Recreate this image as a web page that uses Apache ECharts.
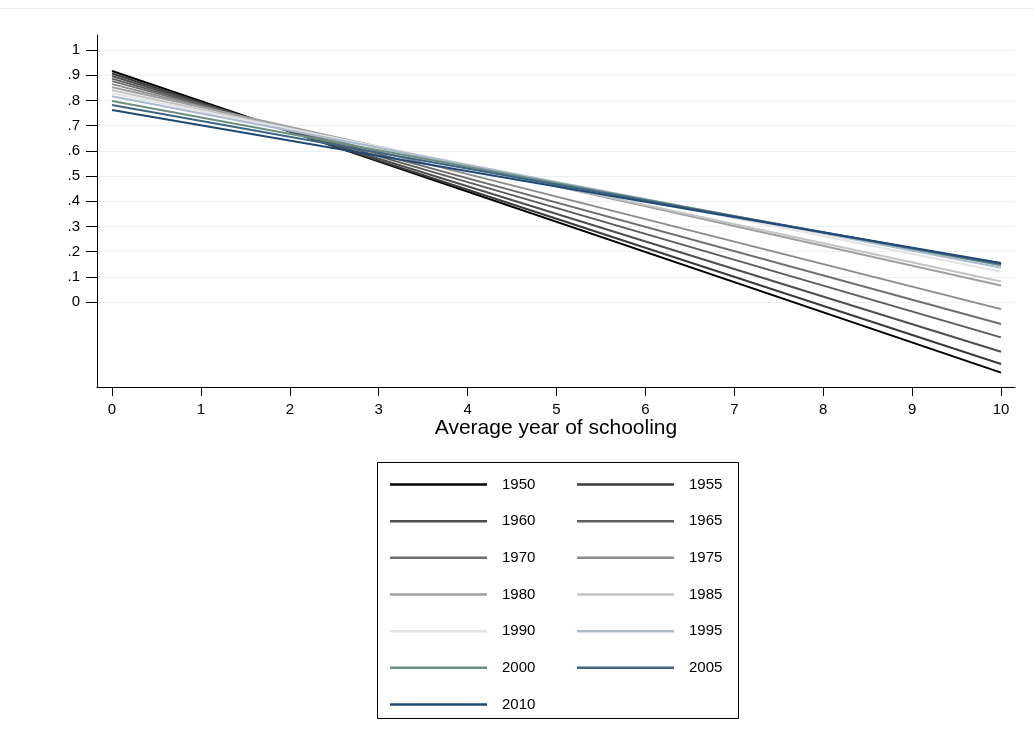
<!DOCTYPE html>
<html>
<head>
<meta charset="utf-8">
<script src="https://cdn.jsdelivr.net/npm/echarts@6/dist/echarts.min.js"></script>
<style>
html,body{margin:0;padding:0;background:#fff;}
#chart{width:1034px;height:755px;}
</style>
</head>
<body>
<div id="chart"></div>
<script>
// Data
const years = ['1950','1955','1960','1965','1970','1975','1980','1985','1990','1995','2000','2005','2010'];
const xStart = 0;
const xEnd = 10;
const valuesAtStart = [0.917,0.907,0.897,0.887,0.877,0.865,0.853,0.841,0.829,0.817,0.798,0.782,0.762];
const valuesAtEnd   = [-0.280,-0.246,-0.197,-0.140,-0.087,-0.028,0.066,0.082,0.120,0.136,0.146,0.151,0.155];
const colors = ['#000000','#3a3a3a','#4e4e4e','#5c5c5c','#6e6e6e','#8c8c8c','#a0a0a0','#c4c4c4','#e4e4e4','#a9bbcc','#6d8f7f','#3f6584','#1f4a75'];
const xTicks = [0,1,2,3,4,5,6,7,8,9,10];
const yTicks = [0,0.1,0.2,0.3,0.4,0.5,0.6,0.7,0.8,0.9,1];

const leftCol = years.filter((y,i)=>i%2===0);
const rightCol = years.filter((y,i)=>i%2===1);

const FONT = 'Liberation Sans, Arial, sans-serif';

const series = years.map((y,i)=>({
  name: y,
  type: 'line',
  data: [[xStart, valuesAtStart[i]],[xEnd, valuesAtEnd[i]]],
  symbol: 'none',
  lineStyle: {color: colors[i], width: 2},
  itemStyle: {color: colors[i]},
  z: 3 + i,
  animation: false
}));

function fmt(v){
  const r = Math.round(v*10)/10;
  if (r === 0) return '0';
  if (r === 1) return '1';
  return String(r).replace(/^0/, '');
}

const legendCommon = {
  orient: 'vertical',
  top: 477,
  padding: 0,
  icon: 'rect',
  itemWidth: 97,
  itemHeight: 2.5,
  itemGap: 21.67,
  textStyle: {fontFamily: FONT, fontSize: 15, color: '#000', padding: [0,0,0,10], lineHeight: 14},
  selectedMode: false
};

const chart = echarts.init(document.getElementById('chart'));
chart.setOption({
  animation: false,
  backgroundColor: '#fff',
  grid: {left: 97, right: 19, top: 35, bottom: 368, containLabel: false},
  xAxis: {
    type: 'value',
    min: -0.169,
    max: 10.157,
    name: 'Average year of schooling',
    nameLocation: 'middle',
    nameGap: 29,
    nameTextStyle: {fontFamily: FONT, fontSize: 21, color: '#000'},
    axisLine: {show: true, onZero: false, lineStyle: {color: '#000', width: 1}},
    axisTick: {show: true, length: 9, lineStyle: {color: '#000'}, customValues: xTicks},
    axisLabel: {fontFamily: FONT, fontSize: 15, color: '#000', margin: 15, customValues: xTicks},
    splitLine: {show: false}
  },
  yAxis: {
    type: 'value',
    min: -0.337,
    max: 1.06,
    axisLine: {show: true, onZero: false, lineStyle: {color: '#000', width: 1}},
    axisTick: {show: true, length: 11, lineStyle: {color: '#000'}, customValues: yTicks},
    axisLabel: {fontFamily: FONT, fontSize: 15, color: '#000', margin: 17, customValues: yTicks, formatter: fmt},
    splitLine: {show: true, lineStyle: {color: '#e8f0f2', width: 1}}
  },
  legend: [
    Object.assign({}, legendCommon, {left: 390, data: leftCol}),
    Object.assign({}, legendCommon, {left: 577, data: rightCol})
  ],
  graphic: [
    {type: 'rect', shape: {x: 377.5, y: 462.5, width: 361, height: 256}, style: {fill: 'none', stroke: '#000', lineWidth: 1}, z: 0},
    {type: 'line', shape: {x1: 0, y1: 8.5, x2: 1034, y2: 8.5}, style: {stroke: '#ececec', lineWidth: 1}, z: 0}
  ],
  series: series
});
</script>
</body>
</html>
